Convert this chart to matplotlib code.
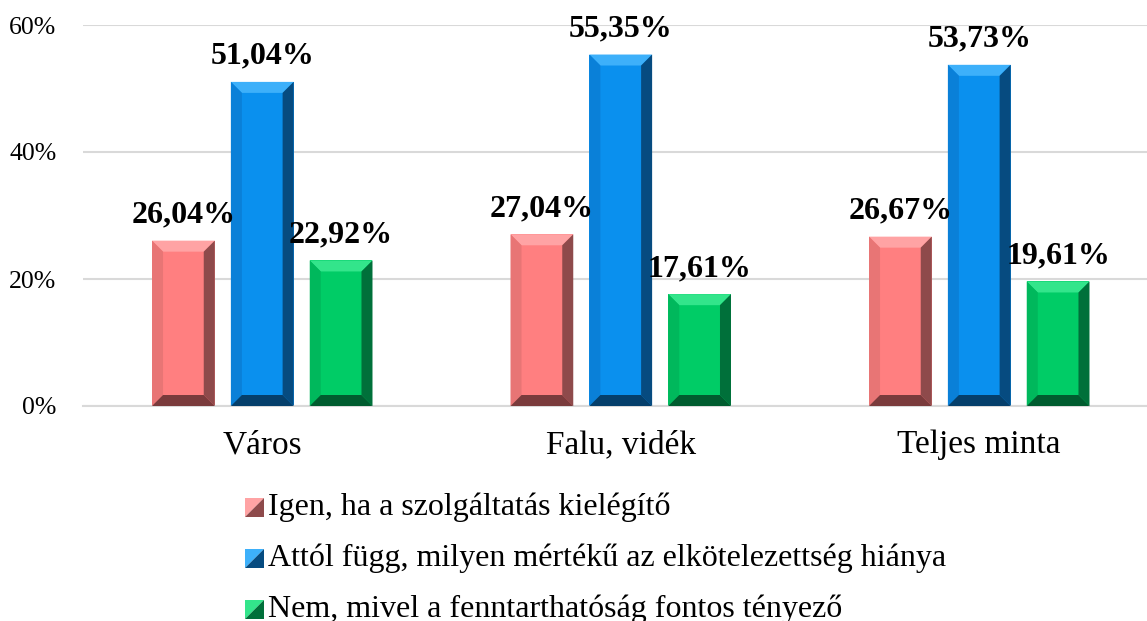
import numpy as np
import matplotlib.pyplot as plt
from matplotlib.patches import Polygon
from matplotlib.legend_handler import HandlerBase

# adatok
categories = ["Város", "Falu, vidék", "Teljes minta"]
series = ["Igen, ha a szolgáltatás kielégítő",
          "Attól függ, milyen mértékű az elkötelezettség hiánya",
          "Nem, mivel a fenntarthatóság fontos tényező"]
igen = [26.04, 27.04, 26.67]
attol = [51.04, 55.35, 53.73]
nem = [22.92, 17.61, 19.61]
yticks = [0, 20, 40, 60]

# szinek: lap, felso, bal, jobb, also
colors = [
    ("#FF7F80", "#FFA3A4", "#E87575", "#8E4A4B", "#7A3B3C"),
    ("#0A90EE", "#3DB0FA", "#0A80D8", "#064B80", "#053F6B"),
    ("#00CC66", "#33E58B", "#00B85C", "#00703A", "#005C2F"),
]

plt.rcParams['font.family'] = ['Liberation Serif', 'DejaVu Serif']
fig = plt.figure(figsize=(11.47, 6.21), dpi=100)
ax = fig.add_axes([83/1147, 1-406/621, (1147-83)/1147, (406-25)/621])

x = np.arange(len(categories))
w = 0.175
step = 0.22
ax.set_xlim(-0.5, -0.5 + (1147-83)/358.5)
ax.set_ylim(0, 60)

def bevel(ax, bar, c, px=11):
    x0, y0 = bar.get_x(), bar.get_y()
    x1, y1 = x0 + bar.get_width(), y0 + bar.get_height()
    bb = ax.get_window_extent()
    dx = px * (ax.get_xlim()[1]-ax.get_xlim()[0]) / bb.width
    dy = px * (ax.get_ylim()[1]-ax.get_ylim()[0]) / bb.height
    dy = min(dy, (y1-y0)/2)
    face, top, left, right, bottom = c
    polys = [
        ([(x0, y1), (x1, y1), (x1-dx, y1-dy), (x0+dx, y1-dy)], top),
        ([(x0, y0), (x0, y1), (x0+dx, y1-dy), (x0+dx, y0+dy)], left),
        ([(x1, y0), (x1, y1), (x1-dx, y1-dy), (x1-dx, y0+dy)], right),
        ([(x0, y0), (x1, y0), (x1-dx, y0+dy), (x0+dx, y0+dy)], bottom),
    ]
    for pts, col in polys:
        ax.add_patch(Polygon(pts, closed=True, facecolor=col, edgecolor='none', zorder=3))

for i, vals in enumerate([igen, attol, nem]):
    bars = ax.bar(x + (i-1)*step, vals, w, color=colors[i][0], zorder=2, label=series[i])
    for b, v in zip(bars, vals):
        bevel(ax, b, colors[i])
        ax.annotate("{:.2f}%".format(v).replace(".", ","),
                    (b.get_x() + b.get_width()/2, v), xytext=(0, 13),
                    textcoords="offset points", ha="center", va="baseline",
                    fontsize=23, fontweight="bold", zorder=5)

ax.set_yticks(yticks)
ax.set_yticklabels(["{}%".format(t) for t in yticks], fontsize=18.5)
ax.set_xticks(x)
ax.set_xticklabels(categories, fontsize=24)
ax.tick_params(length=0)
ax.tick_params(axis='y', pad=19)
ax.tick_params(axis='x', pad=17)
ax.yaxis.grid(True, color="#D9D9D9", linewidth=1.5, zorder=0)
ax.set_axisbelow(True)
for s in ["top", "right", "left"]:
    ax.spines[s].set_visible(False)
ax.spines["bottom"].set_color("#D9D9D9")
ax.spines["bottom"].set_linewidth(1.5)

# legend jel: kis piramis
class Pyramid(HandlerBase):
    def __init__(self, c):
        super().__init__()
        self.c = c
    def create_artists(self, legend, orig, xd, yd, width, height, fontsize, trans):
        s = min(width, height)
        x0, y0 = xd + (width - s)/2, yd + (height - s)/2 - 0.1*s
        x1, y1 = x0 + s, y0 + s
        face, top, left, right, bottom = self.c
        tl = Polygon([(x0, y0), (x0, y1), (x1, y1)], closed=True, facecolor=top,
                     edgecolor='none', transform=trans)
        br = Polygon([(x0, y0), (x1, y0), (x1, y1)], closed=True, facecolor=right,
                     edgecolor='none', transform=trans)
        return [tl, br]

handles = [plt.Rectangle((0, 0), 1, 1) for _ in range(3)]
fig.legend(handles, series, loc="upper left", bbox_to_anchor=(245/1147, 1-492/621),
           frameon=False, fontsize=23, handlelength=0.6, handleheight=0.6,
           handletextpad=0.12, labelspacing=0.68, borderpad=0, borderaxespad=0,
           handler_map={handles[i]: Pyramid(colors[i]) for i in range(3)})

plt.savefig("out.png", dpi=100)
